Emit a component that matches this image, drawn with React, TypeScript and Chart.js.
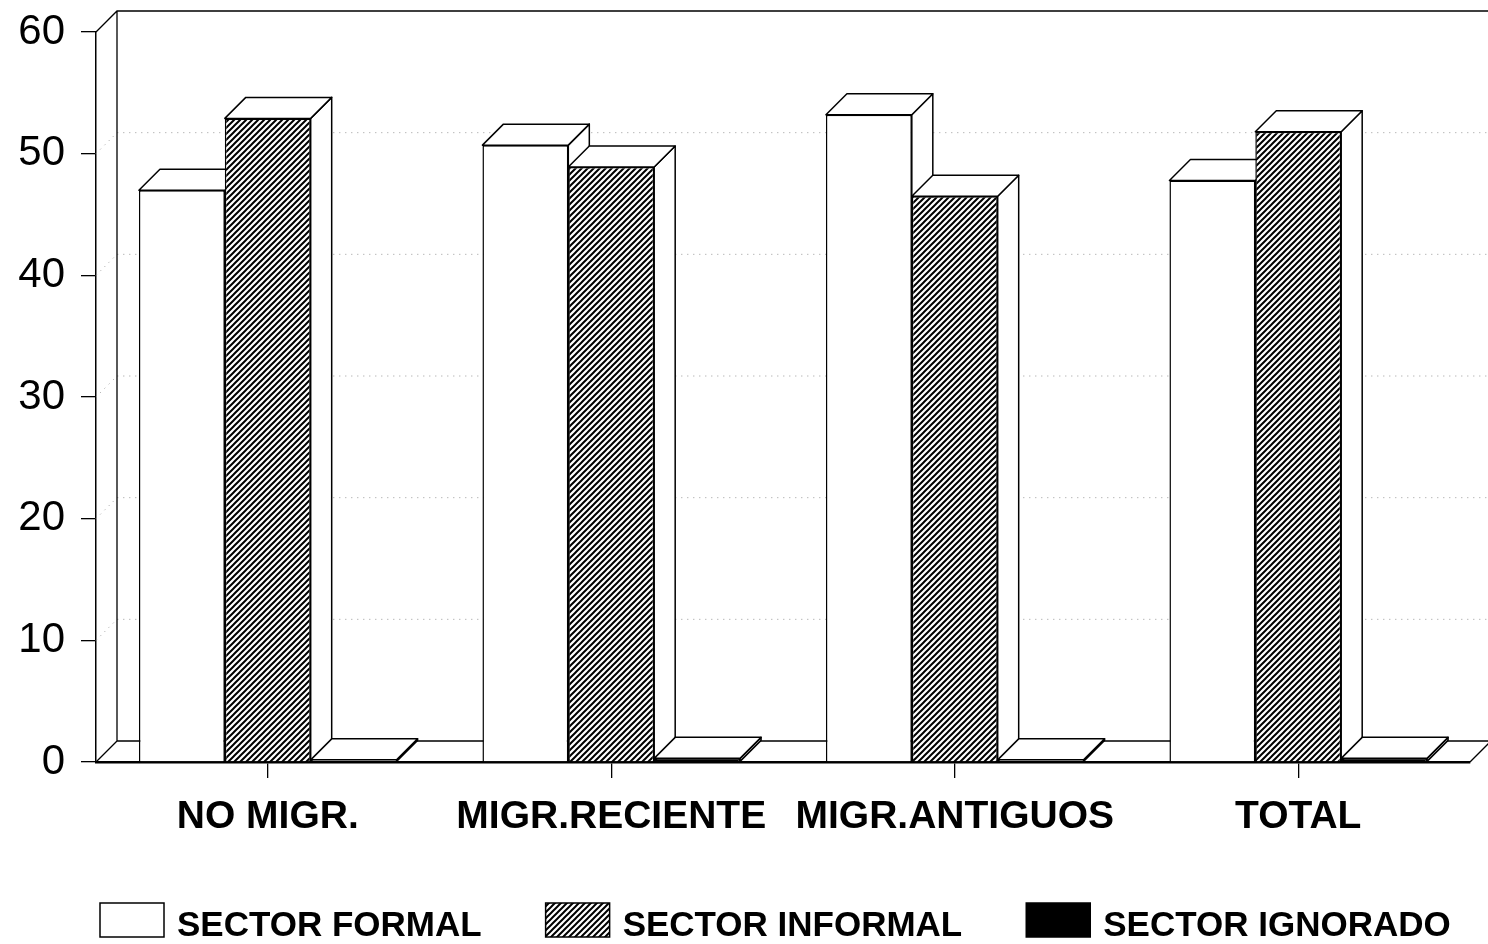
import React, { useEffect, useRef } from "react";
import { Chart, registerables } from "chart.js";

Chart.register(...registerables);

const categories = ["NO MIGR.", "MIGR.RECIENTE", "MIGR.ANTIGUOS", "TOTAL"];
const sectorFormal = [47.0, 50.7, 53.2, 47.8];
const sectorInformal = [52.9, 48.9, 46.5, 51.8];
const sectorIgnorado = [0.1, 0.3, 0.1, 0.3];
const seriesNames = ["SECTOR FORMAL", "SECTOR INFORMAL", "SECTOR IGNORADO"];
const yTickValues = [0, 10, 20, 30, 40, 50, 60];

const FONT = "'Liberation Sans', Arial, Helvetica, sans-serif";
const DX = 21;
const DY = -21;

function makeHatch(): CanvasPattern | string {
  const n = 6;
  const c = document.createElement("canvas");
  c.width = n;
  c.height = n;
  const g = c.getContext("2d");
  if (!g) return "#555";
  g.fillStyle = "#fff";
  g.fillRect(0, 0, n, n);
  g.strokeStyle = "#000";
  g.lineWidth = 2;
  g.beginPath();
  g.moveTo(-1, n + 1);
  g.lineTo(n + 1, -1);
  g.moveTo(-1, 1);
  g.lineTo(1, -1);
  g.moveTo(n - 1, n + 1);
  g.lineTo(n + 1, n - 1);
  g.stroke();
  const p = g.createPattern(c, "repeat");
  return p || "#555";
}

const threeD = {
  id: "threeD",
  beforeDatasetsDraw(chart: any) {
    const { ctx, chartArea, scales } = chart;
    const L = chartArea.left;
    const R = chartArea.right;
    const T = chartArea.top;
    const B = chartArea.bottom;
    const ys = scales.y;
    ctx.save();
    // dotted back-wall gridlines
    ctx.strokeStyle = "#9a9a9a";
    ctx.lineWidth = 1;
    ctx.setLineDash([1, 5]);
    yTickValues.forEach((v) => {
      if (v === 0 || v === 60) return;
      const y = ys.getPixelForValue(v);
      ctx.beginPath();
      ctx.moveTo(L, y);
      ctx.lineTo(L + DX, y + DY);
      ctx.lineTo(R + DX, y + DY);
      ctx.stroke();
    });
    ctx.setLineDash([]);
    // walls and floor
    ctx.strokeStyle = "#000";
    ctx.lineWidth = 1.3;
    ctx.beginPath();
    ctx.moveTo(L, T);
    ctx.lineTo(L + DX, T + DY);
    ctx.lineTo(R + DX + 40, T + DY);
    ctx.moveTo(L + DX, T + DY);
    ctx.lineTo(L + DX, B + DY);
    ctx.lineTo(R + DX, B + DY);
    ctx.moveTo(L, B);
    ctx.lineTo(L + DX, B + DY);
    ctx.moveTo(R, B);
    ctx.lineTo(R + DX, B + DY);
    ctx.stroke();

    // bar side and top faces, painted left to right
    const bars: any[] = [];
    chart.data.datasets.forEach((_d: any, di: number) => {
      const meta = chart.getDatasetMeta(di);
      meta.data.forEach((el: any) => {
        const p = el.getProps(["x", "y", "base", "width"], true);
        bars.push(p);
      });
    });
    bars.sort((a, b) => a.x - b.x);
    ctx.lineWidth = 1.5;
    ctx.lineJoin = "round";
    bars.forEach((b) => {
      const left = b.x - b.width / 2;
      const right = b.x + b.width / 2;
      const top = Math.min(b.y, b.base - 1.5);
      const base = b.base;
      ctx.fillStyle = "#fff";
      ctx.beginPath();
      ctx.moveTo(right, top);
      ctx.lineTo(right + DX, top + DY);
      ctx.lineTo(right + DX, base + DY);
      ctx.lineTo(right, base);
      ctx.closePath();
      ctx.fill();
      ctx.stroke();
      ctx.beginPath();
      ctx.moveTo(left, top);
      ctx.lineTo(right, top);
      ctx.lineTo(right + DX, top + DY);
      ctx.lineTo(left + DX, top + DY);
      ctx.closePath();
      ctx.fill();
      ctx.stroke();
    });
    ctx.restore();
  },
  afterDraw(chart: any) {
    const { ctx } = chart;
    ctx.save();
    ctx.font = `bold 35px ${FONT}`;
    ctx.textBaseline = "alphabetic";
    ctx.fillStyle = "#000";
    let x = 100;
    const boxW = 64;
    const boxH = 34;
    const boxTop = 903;
    chart.data.datasets.forEach((d: any) => {
      ctx.fillStyle = d.backgroundColor;
      ctx.fillRect(x, boxTop, boxW, boxH);
      ctx.strokeStyle = "#000";
      ctx.lineWidth = 1.5;
      ctx.strokeRect(x, boxTop, boxW, boxH);
      ctx.fillStyle = "#000";
      const tx = x + boxW + 13;
      ctx.fillText(d.label, tx, 936);
      x = tx + ctx.measureText(d.label).width + 64;
    });
    ctx.restore();
  },
};

export default function App() {
  const ref = useRef<HTMLCanvasElement | null>(null);
  useEffect(() => {
    document.body.style.margin = "0";
    const canvas = ref.current;
    if (!canvas) return;
    const hatch = makeHatch();
    const chart = new Chart(canvas, {
      type: "bar",
      data: {
        labels: categories,
        datasets: [
          {
            label: seriesNames[0],
            data: sectorFormal,
            backgroundColor: "#ffffff",
            borderColor: "#000",
            borderWidth: 1.5,
          },
          {
            label: seriesNames[1],
            data: sectorInformal,
            backgroundColor: hatch as any,
            borderColor: "#000",
            borderWidth: 1.5,
          },
          {
            label: seriesNames[2],
            data: sectorIgnorado,
            backgroundColor: "#000000",
            borderColor: "#000",
            borderWidth: 1.5,
          },
        ],
      },
      options: {
        animation: false,
        responsive: false,
        devicePixelRatio: 1,
        layout: { padding: { top: 32, left: 0, right: 18, bottom: 82 } },
        datasets: {
          bar: { categoryPercentage: 0.75, barPercentage: 1.0 },
        },
        plugins: {
          legend: { display: false },
          tooltip: { enabled: false },
          title: { display: false },
        },
        scales: {
          x: {
            grid: {
              offset: false,
              drawOnChartArea: false,
              drawTicks: true,
              tickLength: 16,
              color: "#000",
              lineWidth: 1.3,
            },
            border: { display: true, color: "#000", width: 2.5 },
            ticks: {
              color: "#000",
              font: { family: FONT, size: 39, weight: "bold" },
              padding: 16,
              maxRotation: 0,
              autoSkip: false,
            },
            afterFit: (s: any) => {
              s.height = 100;
              s.paddingLeft = 0;
              s.paddingRight = 0;
            },
          },
          y: {
            min: 0,
            max: 60,
            grid: {
              drawOnChartArea: false,
              drawTicks: true,
              tickLength: 15,
              color: "#000",
              lineWidth: 1.3,
            },
            border: { display: true, color: "#000", width: 1.5 },
            ticks: {
              stepSize: 10,
              color: "#000",
              font: { family: FONT, size: 42 },
              padding: 16,
            },
            afterFit: (s: any) => {
              s.width = 96;
              s.paddingTop = 0;
              s.paddingBottom = 0;
            },
          },
        },
      },
      plugins: [threeD],
    });
    return () => chart.destroy();
  }, []);
  return (
    <div style={{ position: "absolute", left: 0, top: 0, width: 1488, height: 944, background: "#fff" }}>
      <canvas ref={ref} width={1488} height={944} />
    </div>
  );
}
